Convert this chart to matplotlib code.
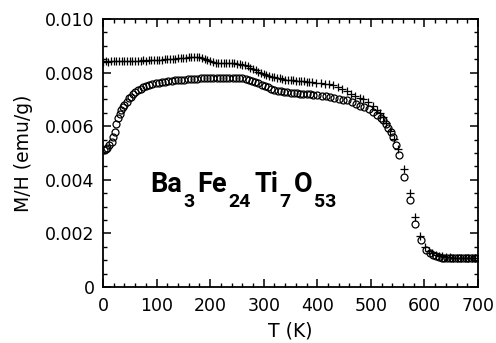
import matplotlib
matplotlib.use("Agg")
import matplotlib.pyplot as plt
from matplotlib.ticker import MultipleLocator, FixedLocator

# Zero-field-cooled (circles)
T_zfc = [2, 5, 8, 12, 16, 19, 22, 25, 28, 31, 34, 37, 40, 44, 48, 52, 56, 60, 65, 70,
         75, 80, 86, 92, 98, 104, 110, 116, 122, 128, 134, 140, 146, 152, 158, 164, 170,
         176, 182, 188, 194, 200, 206, 212, 218, 224, 230, 236, 242, 248, 254, 260, 266,
         272, 278, 284, 290, 296, 302, 308, 314, 320, 326, 332, 338, 344, 350, 356, 362,
         368, 374, 380, 386, 392, 400, 408, 416, 424, 432, 440, 448, 456, 464, 472, 480,
         488, 496, 504, 512, 518, 523, 528, 532, 537, 541, 547, 553, 562, 573, 582, 593,
         603, 610, 616, 622, 627, 632, 637, 642, 647, 652, 657, 662, 667, 672, 677, 682,
         687, 692, 696]
M_zfc = [0.00510, 0.00515, 0.00520, 0.00530, 0.00540, 0.00560, 0.00580, 0.00610, 0.00630,
         0.00645, 0.00660, 0.00670, 0.00680, 0.00690, 0.00705, 0.00710, 0.00720, 0.00728,
         0.00735, 0.00740, 0.00745, 0.00750, 0.00755, 0.00757, 0.00760, 0.00762, 0.00764,
         0.00766, 0.00768, 0.00770, 0.00771, 0.00772, 0.00773, 0.00774, 0.00775, 0.00776,
         0.00777, 0.00777, 0.00778, 0.00778, 0.00779, 0.00780, 0.00780, 0.00780, 0.00781,
         0.00781, 0.00781, 0.00780, 0.00780, 0.00780, 0.00779, 0.00778, 0.00776, 0.00773,
         0.00769, 0.00765, 0.00760, 0.00755, 0.00750, 0.00745, 0.00740, 0.00736, 0.00733,
         0.00730, 0.00728, 0.00726, 0.00725, 0.00724, 0.00723, 0.00722, 0.00721, 0.00720,
         0.00719, 0.00718, 0.00716, 0.00714, 0.00711, 0.00709, 0.00706, 0.00703, 0.00699,
         0.00696, 0.00690, 0.00684, 0.00677, 0.00671, 0.00663, 0.00654, 0.00643, 0.00632,
         0.00622, 0.00610, 0.00595, 0.00578, 0.00558, 0.00530, 0.00493, 0.00412, 0.00325,
         0.00235, 0.00175, 0.00138, 0.00127, 0.00120, 0.00115, 0.00112, 0.00110, 0.00109,
         0.00108, 0.00108, 0.00108, 0.00108, 0.00108, 0.00108, 0.00108, 0.00108, 0.00108,
         0.00108, 0.00108, 0.00108]

# Field-cooled (crosses)
T_fc = [0, 5, 10, 15, 20, 25, 30, 35, 40, 45, 50, 55, 60, 65, 70, 75, 80, 85, 90, 95, 100,
        105, 110, 115, 120, 125, 130, 135, 140, 145, 150, 155, 160, 165, 170, 175, 180, 185,
        190, 195, 200, 205, 210, 215, 220, 225, 230, 235, 240, 245, 250, 255, 260, 265, 270,
        275, 280, 285, 290, 295, 300, 305, 310, 315, 320, 325, 330, 335, 340, 345, 350, 355,
        360, 365, 370, 375, 380, 385, 390, 398, 406, 414, 422, 430, 438, 446, 455, 463, 471,
        479, 486, 494, 504, 511, 517, 523, 529, 536, 544, 551, 562, 573, 582, 592, 602, 609,
        615, 621, 627, 633, 640, 647, 654, 661, 668, 675, 682, 689, 695]
M_fc = [0.00840, 0.00842, 0.00841, 0.00843, 0.00842, 0.00843, 0.00843, 0.00844, 0.00843,
        0.00844, 0.00844, 0.00845, 0.00844, 0.00845, 0.00845, 0.00846, 0.00845, 0.00846,
        0.00846, 0.00847, 0.00847, 0.00848, 0.00848, 0.00849, 0.00850, 0.00850, 0.00851,
        0.00852, 0.00853, 0.00854, 0.00855, 0.00856, 0.00857, 0.00858, 0.00858, 0.00858,
        0.00857, 0.00855, 0.00852, 0.00848, 0.00844, 0.00840, 0.00837, 0.00835, 0.00834,
        0.00834, 0.00834, 0.00834, 0.00834, 0.00834, 0.00833, 0.00832, 0.00830, 0.00827,
        0.00823, 0.00818, 0.00813, 0.00808, 0.00803, 0.00799, 0.00795, 0.00791, 0.00788,
        0.00785, 0.00782, 0.00780, 0.00778, 0.00776, 0.00774, 0.00773, 0.00772, 0.00771,
        0.00770, 0.00769, 0.00768, 0.00767, 0.00766, 0.00765, 0.00764, 0.00763, 0.00761,
        0.00759, 0.00756, 0.00752, 0.00746, 0.00740, 0.00731, 0.00722, 0.00713, 0.00707,
        0.00700, 0.00690, 0.00675, 0.00662, 0.00650, 0.00635, 0.00612, 0.00582, 0.00552,
        0.00515, 0.00440, 0.00350, 0.00260, 0.00190, 0.00150, 0.00135, 0.00126, 0.00120,
        0.00116, 0.00114, 0.00112, 0.00111, 0.00110, 0.00110, 0.00110, 0.00110, 0.00110,
        0.00110, 0.00110]

x_ticks = [0, 100, 200, 300, 400, 500, 600, 700]
y_ticks = [0, 0.002, 0.004, 0.006, 0.008, 0.010]
y_ticklabels = ["0", "0.002", "0.004", "0.006", "0.008", "0.010"]

# chemical formula pieces: (text, is_subscript)
formula = [("Ba", False), ("3", True), ("Fe", False), ("24", True),
           ("Ti", False), ("7", True), ("O", False), ("53", True)]

fig = plt.figure(figsize=(4.96, 3.43), dpi=100)
ax = fig.add_axes([0.2077, 0.1633, 0.7560, 0.7813])

ax.plot(T_fc, M_fc, linestyle='none', marker='+', markersize=6, markeredgewidth=0.9,
        color='black')
ax.plot(T_zfc, M_zfc, linestyle='none', marker='o', markersize=5, markerfacecolor='none',
        markeredgewidth=0.9, color='black')

ax.set_xlim(0, 700)
ax.set_ylim(0, 0.010)
ax.xaxis.set_major_locator(FixedLocator(x_ticks))
ax.yaxis.set_major_locator(FixedLocator(y_ticks))
ax.set_yticklabels(y_ticklabels)
ax.xaxis.set_minor_locator(MultipleLocator(20))
ax.yaxis.set_minor_locator(MultipleLocator(0.0005))
ax.tick_params(which='both', direction='in', top=True, right=True, labelsize=12.5)
ax.tick_params(which='major', length=6, width=1.1)
ax.tick_params(which='minor', length=3, width=1.0)
ax.tick_params(axis='y', pad=6)
ax.tick_params(axis='x', pad=7)
for s in ax.spines.values():
    s.set_linewidth(1.3)

ax.set_xlabel('T (K)', fontsize=13.5, labelpad=5)
ax.set_ylabel('M/H (emu/g)', fontsize=13.5, labelpad=9)

# compose formula piece by piece
fig.canvas.draw()
renderer = fig.canvas.get_renderer()
x0_px, y0_px = ax.transData.transform((87.7, 0.003534))
xcur = x0_px
prev_sub = None
for txt, sub in formula:
    if prev_sub is not None:
        xcur += 1.5 if (not prev_sub and sub) else 3.0
    size = 14 if sub else 19.5
    ypx = y0_px - (14.4 if sub else 0)
    t = fig.text(xcur / fig.dpi / fig.get_figwidth(), ypx / fig.dpi / fig.get_figheight(),
                 txt, fontsize=size, family='Roboto', fontweight='bold',
                 ha='left', va='baseline')
    bb = t.get_window_extent(renderer)
    xcur = bb.x1
    prev_sub = sub

fig.savefig('out.png', dpi=100)
